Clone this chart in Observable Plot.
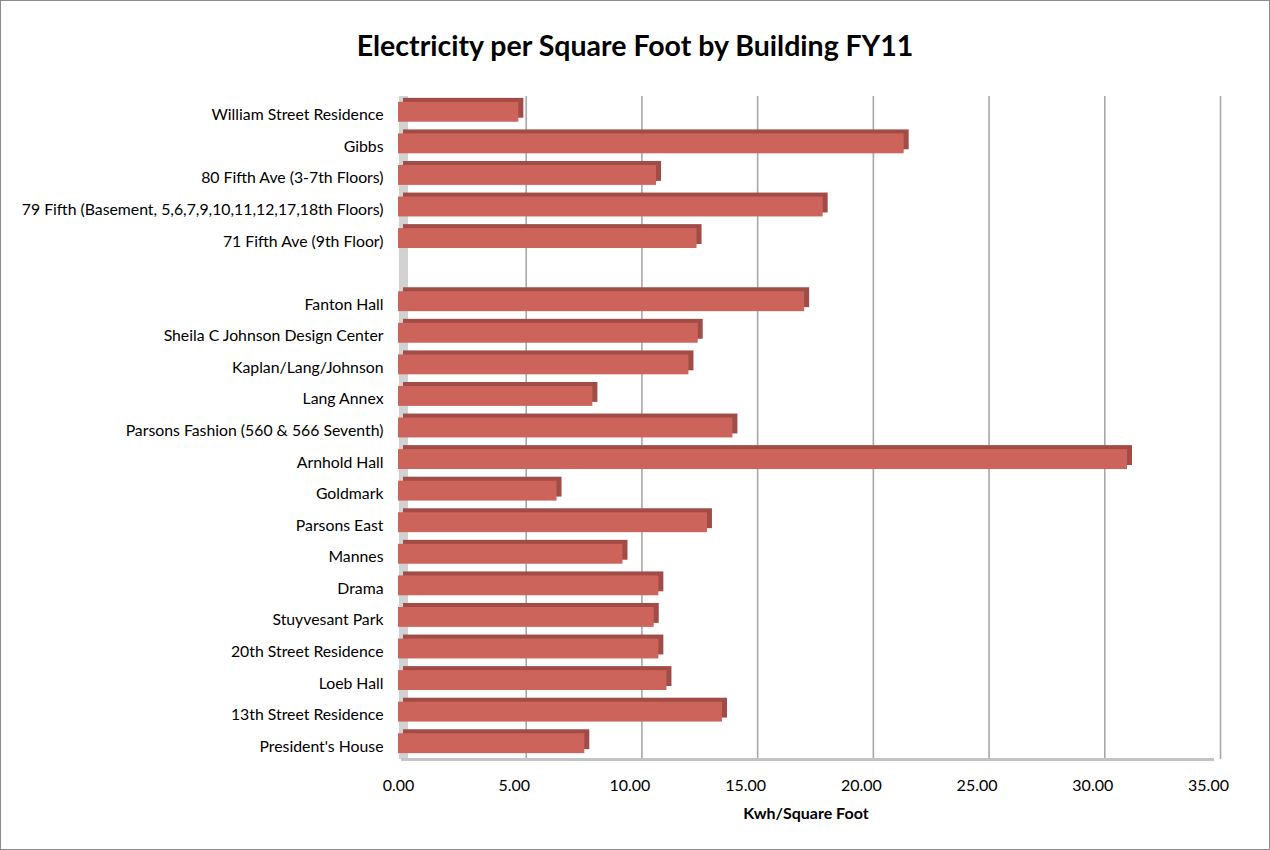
<!DOCTYPE html>
<html>
<head>
<meta charset="utf-8">
<script src="https://cdn.jsdelivr.net/npm/d3@7"></script>
<script src="https://cdn.jsdelivr.net/npm/@observablehq/plot@0.6"></script>
<style>
  html, body { margin: 0; padding: 0; background: #fff; }
  #frame { width: 1268px; height: 848px; border: 1px solid #8c8c8c; position: relative; overflow: hidden; font-family: Lato, "Open Sans", sans-serif; }
  #title { height: 70px; box-sizing: border-box; padding-top: 29px; line-height: 30px; text-align: center; font-weight: bold; font-size: 28.5px; color: #000; }
  #chart { height: 724px; line-height: 0; }
  #xlabel { position: absolute; left: 0; width: 1610px; top: 802px; line-height: 20px; text-align: center; font-weight: bold; font-size: 16px; color: #000; }
</style>
</head>
<body>
<div id="frame">
  <div id="title">Electricity per Square Foot by Building FY11</div>
  <div id="chart"></div>
  <div id="xlabel">Kwh/Square Foot</div>
</div>
<script>
const buildings = [
  "William Street Residence",
  "Gibbs",
  "80 Fifth Ave (3-7th Floors)",
  "79 Fifth (Basement, 5,6,7,9,10,11,12,17,18th Floors)",
  "71 Fifth Ave (9th Floor)",
  " ",
  "Fanton Hall",
  "Sheila C Johnson Design Center",
  "Kaplan/Lang/Johnson",
  "Lang Annex",
  "Parsons Fashion (560 & 566 Seventh)",
  "Arnhold Hall",
  "Goldmark",
  "Parsons East",
  "Mannes",
  "Drama",
  "Stuyvesant Park",
  "20th Street Residence",
  "Loeb Hall",
  "13th Street Residence",
  "President's House"
];
const kwhPerSqFt = [
  5.2, 21.85, 11.15, 18.35, 12.9, null,
  17.55, 12.95, 12.55, 8.4, 14.45, 31.5, 6.85, 13.35, 9.7, 11.25, 11.05, 11.25, 11.6, 14.0, 8.05
];
const xTicks = [0, 5, 10, 15, 20, 25, 30, 35];

const data = buildings.map((b, i) => ({building: b, value: kwhPerSqFt[i]}))
  .filter(d => d.value != null);

const chart = Plot.plot({
  width: 1268,
  height: 724,
  marginLeft: 397,
  marginRight: 61,
  marginTop: 25,
  marginBottom: 36,
  style: {fontFamily: "Lato, 'Open Sans', sans-serif", fontSize: "14px", color: "#000", background: "#fff"},
  x: {domain: [0, 35], ticks: xTicks, tickFormat: d3.format(".2f")},
  y: {domain: buildings, paddingInner: 0.37, paddingOuter: 0.185, round: false},
  marks: [
    Plot.ruleX(xTicks.slice(1), {stroke: "#a8a8a8", strokeWidth: 1.6, dx: 12}),
    Plot.ruleX([0], {stroke: "#d2d2d2", strokeWidth: 9, dx: 5}),
    Plot.frame({anchor: "bottom", stroke: "#c4c4c4", strokeWidth: 3, dx: 4}),
    Plot.barX(data, {y: "building", x: "value", fill: "#a14c46", dx: 5, dy: -4}),
    Plot.barX(data, {y: "building", x: "value", fill: "#cd645b"}),
    Plot.axisX({ticks: xTicks, tickFormat: d3.format(".2f"), tickSize: 0, tickPadding: 20, label: null, fontSize: 16}),
    Plot.axisY({tickSize: 0, tickPadding: 15, label: null, fontSize: 15.8, dy: 3})
  ]
});
document.getElementById("chart").appendChild(chart);
</script>
</body>
</html>
